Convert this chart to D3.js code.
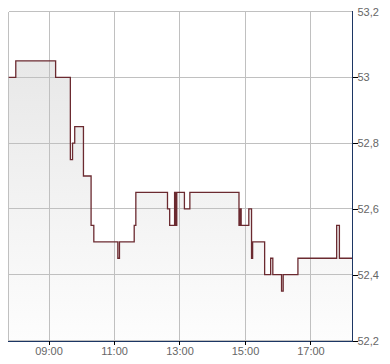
<!DOCTYPE html>
<html>
<head>
<meta charset="utf-8">
<script src="https://cdn.jsdelivr.net/npm/d3@7"></script>
<style>
  html, body { margin: 0; padding: 0; background: #fff; }
  svg { display: block; }
  text { font-family: "Liberation Sans", Arial, sans-serif; font-size: 11px; fill: #666; }
</style>
</head>
<body>
<svg id="chart" width="390" height="364"></svg>
<script>
// ---- data ----
const times = ["07:47","08:00","09:13","09:40","09:44","09:48","10:04","10:18","10:23","11:07","11:10","11:37","11:40",
  "12:38","12:42","12:51","12:52","12:53","12:54","12:55","13:09","13:19","14:49","14:51","14:53","15:07","15:12",
  "15:14","15:36","15:47","15:51","16:07","16:10","16:37","17:48","17:53","18:17"];
const prices = [53.00,53.05,53.00,52.75,52.80,52.85,52.70,52.55,52.50,52.45,52.50,52.55,52.65,
  52.60,52.55,52.65,52.55,52.65,52.55,52.65,52.60,52.65,52.55,52.60,52.55,52.60,52.45,
  52.50,52.40,52.45,52.40,52.35,52.40,52.45,52.55,52.45,52.45];
const xTickLabels = ["09:00","11:00","13:00","15:00","17:00"];
const yTicks = [52.2, 52.4, 52.6, 52.8, 53.0, 53.2];
const yDomain = [52.2, 53.2];
const xDomainStr = ["07:46:40", "18:17:00"];

// ---- setup ----
const parseT = d3.timeParse("%H:%M");
const parseTS = d3.timeParse("%H:%M:%S");
const data = times.map((t, i) => ({ t: parseT(t), v: prices[i] }));

const L = 8.5, R = 352.5, T = 11.5, B = 340.5;
const x = d3.scaleTime().domain(xDomainStr.map(parseTS)).range([L, R]);
const y = d3.scaleLinear().domain(yDomain).range([B, T]);

const svg = d3.select("#chart");
const defs = svg.append("defs");
const grad = defs.append("linearGradient").attr("id", "fillGrad")
  .attr("gradientUnits", "userSpaceOnUse").attr("x1", 0).attr("y1", T).attr("x2", 0).attr("y2", B);
grad.append("stop").attr("offset", "0%").attr("stop-color", "#e4e4e4");
grad.append("stop").attr("offset", "100%").attr("stop-color", "#fdfdfd");

// area fill
const area = d3.area().curve(d3.curveStepAfter).x(d => x(d.t)).y0(B).y1(d => y(d.v));
svg.append("path").datum(data).attr("d", area).attr("fill", "url(#fillGrad)");

// grid
const xTickDates = xTickLabels.map(parseT);
const grid = svg.append("g").attr("stroke", "#c0c0c0").attr("stroke-width", 1).attr("shape-rendering", "crispEdges");
grid.selectAll(".vx").data(xTickDates).join("line")
  .attr("x1", d => Math.round(x(d)) + 0.5).attr("x2", d => Math.round(x(d)) + 0.5).attr("y1", T).attr("y2", B);
grid.selectAll(".hy").data(yTicks).join("line")
  .attr("x1", L).attr("x2", R).attr("y1", d => Math.round(y(d) - 0.5) + 0.5).attr("y2", d => Math.round(y(d) - 0.5) + 0.5);
grid.append("line").attr("x1", L).attr("x2", L).attr("y1", T).attr("y2", B);

// price line
const line = d3.line().curve(d3.curveStepAfter).x(d => x(d.t)).y(d => y(d.v));
svg.append("path").datum(data).attr("d", line).attr("fill", "none")
  .attr("stroke", "#6b2a30").attr("stroke-width", 1.3);

// bottom axis
const xAxis = d3.axisBottom(x).tickValues(xTickDates).tickFormat(d3.timeFormat("%H:%M")).tickSize(4).tickPadding(3);
const gx = svg.append("g").attr("transform", `translate(0,${B})`).call(xAxis);
gx.select(".domain").attr("stroke", "#1c3664").attr("d", `M${L - 0.5},0.5H${R + 0.5}`).attr("shape-rendering", "crispEdges");
gx.selectAll(".tick line").attr("stroke", "#000").attr("shape-rendering", "crispEdges");
gx.selectAll(".tick text").attr("fill", "#666").style("font-size", "11px").style("font-family", "'Liberation Sans', Arial, sans-serif");

// right axis
const fmt = d => d3.format(".1~f")(d).replace(".", ",");
const yAxis = d3.axisRight(y).tickValues(yTicks).tickFormat(fmt).tickSize(5).tickPadding(0);
const gy = svg.append("g").attr("transform", `translate(${R},0)`).call(yAxis);
gy.select(".domain").attr("stroke", "#1c3664").attr("d", `M0,${T - 0.5}V${B + 0.5}`).attr("shape-rendering", "crispEdges");
gy.selectAll(".tick line").attr("stroke", "#000").attr("shape-rendering", "crispEdges")
  .attr("display", d => d === yDomain[1] ? "none" : null);
gy.selectAll(".tick text").attr("fill", "#666").style("font-size", "11px").style("font-family", "'Liberation Sans', Arial, sans-serif");
</script>
</body>
</html>
